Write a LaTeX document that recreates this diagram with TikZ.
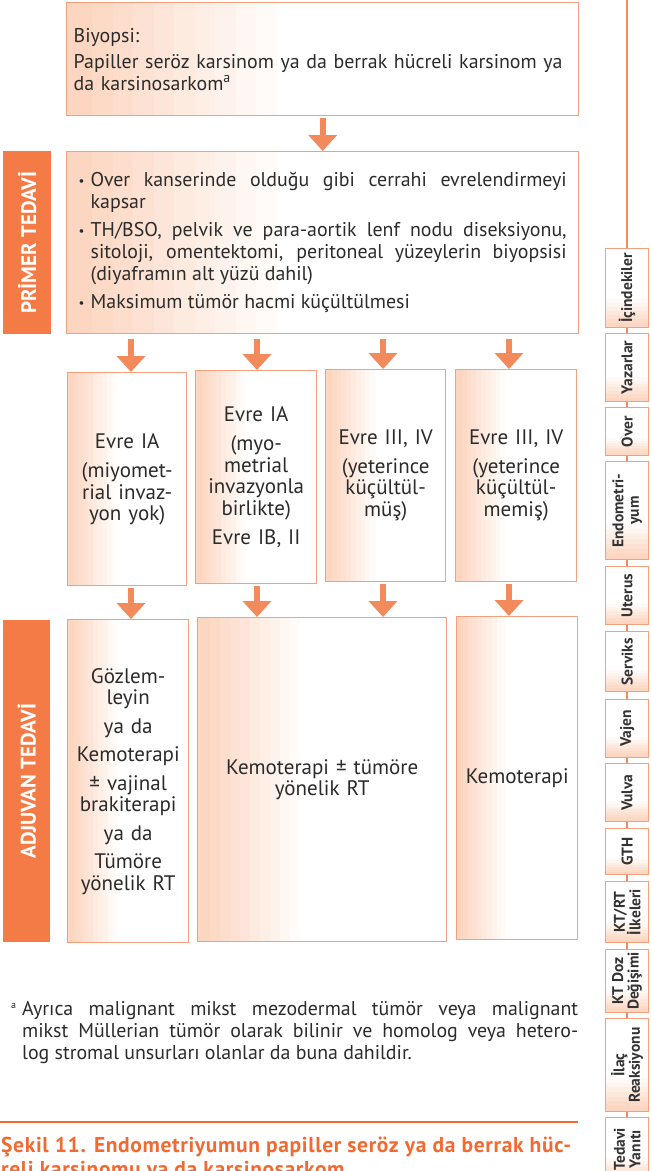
\documentclass[tikz,border=0pt]{standalone}
\usepackage{fontspec}
\setmainfont{PT Sans}
\usetikzlibrary{arrows.meta,calc}

\definecolor{labfill}{HTML}{F47B45}
\definecolor{edge}{HTML}{F5A07D}
\definecolor{spine}{HTML}{F08A60}
\definecolor{arrowc}{HTML}{F38A5C}
\definecolor{capc}{HTML}{F26A30}
\definecolor{ink}{HTML}{2B2B2B}
\definecolor{tabink}{HTML}{333333}
% peach tints, from full strength (100) towards white
\definecolor{tint100}{RGB}{252,214,192}
\definecolor{tint90}{RGB}{252,218,198}
\definecolor{tint85}{RGB}{252,220,201}
\definecolor{tint80}{RGB}{253,222,205}
\definecolor{tint70}{RGB}{253,226,211}
\definecolor{tint60}{RGB}{253,230,217}
\definecolor{tint55}{RGB}{253,232,220}
\definecolor{tint50}{RGB}{254,235,224}
\definecolor{tint40}{RGB}{254,239,230}
\definecolor{tint30}{RGB}{254,243,236}
\definecolor{tint25}{RGB}{254,245,239}
\definecolor{tint20}{RGB}{254,247,242}
\definecolor{tint12}{RGB}{255,250,247}
\definecolor{tint10}{RGB}{255,251,249}

\newcommand\bodyfont{\fontsize{19.9}{22}\selectfont}
\newcommand\stagefont{\fontsize{21}{21.5}\selectfont}
\newcommand\bitem[1]{\hangindent=12pt\hangafter=1\noindent\makebox[12pt][l]{\raisebox{1.5pt}{\fontsize{13}{13}\selectfont•}}#1\par}
\newcommand\sidetab[4]{%
  \node[tab, minimum height=#3pt-#2pt] (#1) at (605,#2) {};
  \node[tabtext] (#1-t) at (#1.center) {#4};}

\begin{document}
\begin{tikzpicture}[x=1pt,y=-1pt,
  % peach tint on the left of a box: stacked bands, darkest narrowest
  leftfade/.style={path picture={
    \fill[tint10] (path picture bounding box.south west) rectangle ($(path picture bounding box.north west)!0.41!(path picture bounding box.north east)$);
    \fill[tint20] (path picture bounding box.south west) rectangle ($(path picture bounding box.north west)!0.37!(path picture bounding box.north east)$);
    \fill[tint30] (path picture bounding box.south west) rectangle ($(path picture bounding box.north west)!0.33!(path picture bounding box.north east)$);
    \fill[tint40] (path picture bounding box.south west) rectangle ($(path picture bounding box.north west)!0.29!(path picture bounding box.north east)$);
    \fill[tint50] (path picture bounding box.south west) rectangle ($(path picture bounding box.north west)!0.25!(path picture bounding box.north east)$);
    \fill[tint60] (path picture bounding box.south west) rectangle ($(path picture bounding box.north west)!0.21!(path picture bounding box.north east)$);
    \fill[tint70] (path picture bounding box.south west) rectangle ($(path picture bounding box.north west)!0.17!(path picture bounding box.north east)$);
    \fill[tint80] (path picture bounding box.south west) rectangle ($(path picture bounding box.north west)!0.13!(path picture bounding box.north east)$);
    \fill[tint90] (path picture bounding box.south west) rectangle ($(path picture bounding box.north west)!0.09!(path picture bounding box.north east)$);
    \fill[tint100] (path picture bounding box.south west) rectangle ($(path picture bounding box.north west)!0.05!(path picture bounding box.north east)$);
  }},
  % peach tint on the lower part of a tab
  bottomfade/.style={path picture={
    \fill[tint12] (path picture bounding box.south west) rectangle ($(path picture bounding box.south east)!0.36!(path picture bounding box.north east)$);
    \fill[tint25] (path picture bounding box.south west) rectangle ($(path picture bounding box.south east)!0.31!(path picture bounding box.north east)$);
    \fill[tint40] (path picture bounding box.south west) rectangle ($(path picture bounding box.south east)!0.26!(path picture bounding box.north east)$);
    \fill[tint55] (path picture bounding box.south west) rectangle ($(path picture bounding box.south east)!0.21!(path picture bounding box.north east)$);
    \fill[tint70] (path picture bounding box.south west) rectangle ($(path picture bounding box.south east)!0.16!(path picture bounding box.north east)$);
    \fill[tint85] (path picture bounding box.south west) rectangle ($(path picture bounding box.south east)!0.11!(path picture bounding box.north east)$);
    \fill[tint100] (path picture bounding box.south west) rectangle ($(path picture bounding box.south east)!0.06!(path picture bounding box.north east)$);
  }},
  box/.style={draw=edge, line width=1.4pt, fill=white, leftfade, anchor=north west, inner sep=0pt, text=ink},
  labbox/.style={fill=labfill, draw=none, anchor=north west, inner sep=0pt},
  labtext/.style={rotate=90, text=white, inner sep=0pt, font=\bfseries\fontsize{21}{22}\selectfont},
  tab/.style={draw=edge, line width=1.2pt, fill=white, bottomfade, anchor=north west, inner sep=0pt, minimum width=43pt},
  tabtext/.style={rotate=90, text=tabink, inner sep=0pt, align=center, font=\bfseries\fontsize{15.5}{15.5}\selectfont},
  arr/.style={draw=arrowc, line width=6pt, -{Triangle[width=28pt,length=16pt]}},
  fnote/.style={anchor=north west, inner sep=0pt, align=justify},
]
\useasboundingbox (0,0) rectangle (651,1171);

% ---- navigation spine and tabs ----
\coordinate (spineTop) at (627,0);
\coordinate (spineBot) at (627,1171);
\draw[spine, line width=1.2pt] (spineTop) -- (spineBot);

\sidetab{tabA}{248}{327}{İçindekiler}
\sidetab{tabB}{333}{401}{Yazarlar}
\sidetab{tabC}{407}{455}{Over}
\sidetab{tabD}{461}{559}{Endometri-\\yum}
\sidetab{tabE}{566}{624}{Uterus}
\sidetab{tabF}{631}{691}{Serviks}
\sidetab{tabG}{699}{757}{Vajen}
\sidetab{tabH}{763}{821}{Vulva}
\sidetab{tabI}{828}{874}{GTH}
\sidetab{tabJ}{881}{942}{KT/RT\\İlkeleri}
\sidetab{tabK}{949}{1012}{KT Doz\\Değişimi}
\sidetab{tabL}{1018}{1111}{İlaç\\Reaksiyonu}
\sidetab{tabM}{1117}{1180}{Tedavi\\Yanıtı}

% ---- section labels ----
\node[labbox, minimum width=48pt, minimum height=183pt] (labPrim) at (3,151) {};
\node[labtext] (labPrim-t) at (labPrim.center) {PRİMER TEDAVİ};
\node[labbox, minimum width=47pt, minimum height=322pt] (labAdj) at (3,620) {};
\node[labtext] (labAdj-t) at (labAdj.center) {ADJUVAN TEDAVİ};

% ---- biopsy ----
\node[box, minimum width=512pt, minimum height=113pt, text width=498pt, align=left, font=\bodyfont] (biopsy) at (66,2)
  {Biyopsi:\\[4pt]Papiller seröz karsinom ya da berrak hücreli karsinom ya\\da karsinosarkom\textsuperscript{a}};

% ---- primary treatment ----
\node[box, minimum width=512pt, minimum height=182pt, text width=488pt, align=justify, font=\bodyfont] (primary) at (66,151)
  {\bitem{Over kanserinde olduğu gibi cerrahi evrelendirmeyi\linebreak kapsar}\vspace{6pt}%
   \bitem{TH/BSO, pelvik ve para-aortik lenf nodu diseksiyonu,\linebreak sitoloji, omentektomi, peritoneal yüzeylerin biyopsisi\linebreak (diyaframın alt yüzü dahil)}\vspace{6pt}%
   \bitem{Maksimum tümör hacmi küçültülmesi}};

% ---- stages ----
\node[box, minimum width=119pt, minimum height=213pt, text width=115pt, align=center, font=\stagefont] (stageA) at (67,372)
  {Evre IA\\[8pt](miyomet-\\rial invaz-\\yon yok)};
\node[box, minimum width=121pt, minimum height=213pt, text width=117pt, align=center, font=\stagefont] (stageB) at (195,370)
  {Evre IA\\[8pt](myo-\\metrial\\invazyonla\\birlikte)\\[8pt]Evre IB, II};
\node[box, minimum width=120pt, minimum height=212pt, text width=116pt, align=center, font=\stagefont] (stageC) at (325,369)
  {Evre III, IV\\[7pt](yeterince\\küçültül-\\müş)};
\node[box, minimum width=121pt, minimum height=212pt, text width=117pt, align=center, font=\stagefont] (stageD) at (455,369)
  {Evre III, IV\\[7pt](yeterince\\küçültül-\\memiş)};

% ---- adjuvant treatment ----
\node[box, minimum width=121pt, minimum height=323pt, text width=119pt, align=center, font=\stagefont] (adjA) at (67,619)
  {Gözlem-\\leyin\\[7pt]ya da\\[7pt]Kemoterapi\\[7pt]± vajinal\\brakiterapi\\[7pt]ya da\\[7pt]Tümöre\\yönelik RT};
\node[box, minimum width=249pt, minimum height=324pt, text width=240pt, align=center, font=\stagefont] (adjB) at (197,617)
  {Kemoterapi ± tümöre\\yönelik RT};
\node[box, minimum width=121pt, minimum height=323pt, text width=117pt, align=center, font=\stagefont] (adjC) at (456,616)
  {Kemoterapi};

% ---- flow arrows ----
\coordinate (colA) at (131,0);
\coordinate (colB) at (257,0);
\coordinate (colC) at (383,0);
\coordinate (colD) at (509,0);
\draw[arr, shorten <=2pt] (biopsy.south) -- (primary.north);
\draw[arr, shorten <=5pt] (primary.south -| colA) -- (stageA.north -| colA);
\draw[arr, shorten <=5pt] (primary.south -| colB) -- (stageB.north -| colB);
\draw[arr, shorten <=5pt] (primary.south -| colC) -- (stageC.north -| colC);
\draw[arr, shorten <=5pt] (primary.south -| colD) -- (stageD.north -| colD);
\draw[arr, shorten <=2pt] (stageA.south -| colA) -- (adjA.north -| colA);
\draw[arr, shorten <=2pt] (stageB.south -| colB) -- (adjB.north -| colB);
\draw[arr, shorten <=2pt] (stageC.south -| colC) -- (adjB.north -| colC);
\draw[arr, shorten <=2pt] (stageD.south -| colD) -- (adjC.north -| colD);

% ---- footnote, rule and caption ----
\node[fnote, text width=556pt, font=\bodyfont, text=ink] (footnote) at (22,1001)
  {\leavevmode\llap{\raisebox{7pt}{\fontsize{10}{10}\selectfont a}\hspace{6pt}}Ayrıca malignant mikst mezodermal tümör veya malignant\linebreak mikst Müllerian tümör olarak bilinir ve homolog veya hetero-\linebreak log stromal unsurları olanlar da buna dahildir.};
\coordinate (ruleL) at (0,1122);
\coordinate (ruleR) at (578,1122);
\draw[capc, line width=1.5pt] (ruleL) -- (ruleR);
\node[fnote, text width=570pt, text=capc, font=\bfseries\fontsize{21.5}{24}\selectfont\addfontfeature{LetterSpace=3}] (caption) at (1,1137)
  {Şekil 11. Endometriyumun papiller seröz ya da berrak hüc-\linebreak reli karsinomu ya da karsinosarkom};
\end{tikzpicture}
\end{document}
